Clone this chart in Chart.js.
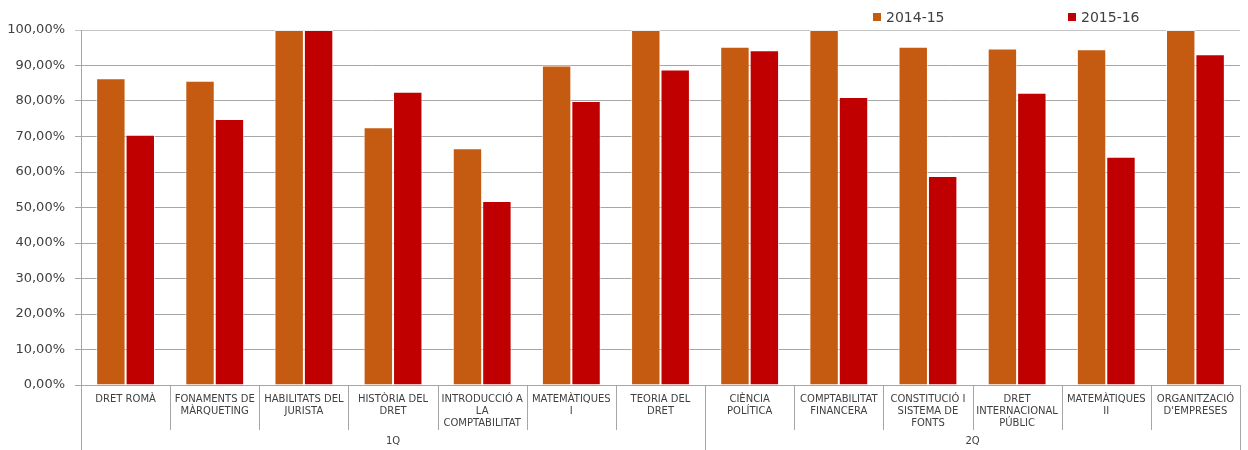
<!DOCTYPE html>
<html>
<head>
<meta charset="utf-8">
<script src="https://cdn.jsdelivr.net/npm/chart.js@4.4.1/dist/chart.umd.min.js"></script>
<style>
  html, body { margin: 0; padding: 0; background: #fff; }
  #wrap { width: 1248px; height: 450px; position: relative; }
</style>
</head>
<body>
<div id="wrap"><canvas id="chart"></canvas></div>
<script>
// Subjects (x categories), wrapped the same way as the original
const subjects = [
    ['DRET ROMÀ'],
    ['FONAMENTS DE', 'MÀRQUETING'],
    ['HABILITATS DEL', 'JURISTA'],
    ['HISTÒRIA DEL', 'DRET'],
    ['INTRODUCCIÓ A', 'LA', 'COMPTABILITAT'],
    ['MATEMÀTIQUES', 'I'],
    ['TEORIA DEL', 'DRET'],
    ['CIÈNCIA', 'POLÍTICA'],
    ['COMPTABILITAT', 'FINANCERA'],
    ['CONSTITUCIÓ I', 'SISTEMA DE', 'FONTS'],
    ['DRET', 'INTERNACIONAL', 'PÚBLIC'],
    ['MATEMÀTIQUES', 'II'],
    ["ORGANITZACIÓ", "D'EMPRESES"]
];

// Quarter groups and how many subjects each one holds
const quarters = ['1Q', '2Q'];
const quarterSizes = [7, 6];

const seriesNames = ['2014-15', '2015-16'];
const values1415 = [86.4, 85.7, 100, 72.6, 66.7, 90.0, 100, 95.3, 100, 95.3, 94.8, 94.6, 100];
const values1516 = [70.5, 74.9, 100, 82.6, 51.8, 80.0, 88.9, 94.3, 81.1, 58.9, 82.3, 64.3, 93.2];

const yTicks = [0, 10, 20, 30, 40, 50, 60, 70, 80, 90, 100];

const colors = ['#C55A11', '#C00000'];
const textColor = '#404040';
const gridColor = '#a6a6a6';

Chart.defaults.font.family = "'DejaVu Sans', Verdana, sans-serif";
Chart.defaults.color = textColor;

// Separators under the axis + quarter labels
const groupAxisPlugin = {
    id: 'groupAxis',
    afterDraw(chart) {
        const ctx = chart.ctx;
        const x = chart.scales.x;
        const top = x.top;
        const n = subjects.length;
        const starts = [0];
        quarterSizes.reduce((acc, s) => { starts.push(acc + s); return acc + s; }, 0);

        const boundary = (i) => {
            if (i === 0) return x.left;
            if (i === n) return x.right;
            return (x.getPixelForValue(i - 1) + x.getPixelForValue(i)) / 2;
        };

        ctx.save();
        ctx.strokeStyle = gridColor;
        ctx.lineWidth = 1;
        for (let i = 0; i <= n; i++) {
            const px = Math.round(boundary(i)) + 0.5;
            const long = starts.includes(i);
            ctx.beginPath();
            ctx.moveTo(px, top);
            ctx.lineTo(px, long ? chart.height : top + 45);
            ctx.stroke();
        }

        ctx.fillStyle = textColor;
        ctx.font = "10px 'DejaVu Sans'";
        ctx.textAlign = 'center';
        ctx.textBaseline = 'middle';
        quarters.forEach((q, k) => {
            const cx = (boundary(starts[k]) + boundary(starts[k + 1])) / 2;
            ctx.fillText(q, cx, top + 56);
        });

        // legend
        ctx.font = "14px 'DejaVu Sans'";
        ctx.textAlign = 'left';
        const legendX = [873, 1068];
        seriesNames.forEach((name, k) => {
            ctx.fillStyle = colors[k];
            ctx.fillRect(legendX[k], 13, 8, 8);
            ctx.fillStyle = textColor;
            ctx.fillText(name, legendX[k] + 13, 18);
        });
        ctx.restore();
    }
};

new Chart(document.getElementById('chart'), {
    type: 'bar',
    data: {
        labels: subjects,
        datasets: [
            {
                label: seriesNames[0],
                data: values1415,
                backgroundColor: colors[0],
                borderColor: 'rgba(255,255,255,0.7)',
                borderWidth: 1,
                categoryPercentage: 0.66,
                barPercentage: 1
            },
            {
                label: seriesNames[1],
                data: values1516,
                backgroundColor: colors[1],
                borderColor: 'rgba(255,255,255,0.7)',
                borderWidth: 1,
                categoryPercentage: 0.66,
                barPercentage: 1
            }
        ]
    },
    options: {
        responsive: true,
        maintainAspectRatio: false,
        animation: false,
        layout: { padding: { left: 0, right: 8, top: 30, bottom: 0 } },
        plugins: {
            legend: { display: false },
            tooltip: { enabled: false }
        },
        scales: {
            x: {
                grid: { display: true, drawOnChartArea: false, drawTicks: false },
                border: { display: true, color: gridColor },
                ticks: {
                    autoSkip: false,
                    maxRotation: 0,
                    padding: 8,
                    color: textColor,
                    font: { size: 10, lineHeight: 1.2 }
                },
                afterFit(scale) { scale.height = 65; }
            },
            y: {
                min: 0,
                max: 100,
                afterBuildTicks(scale) { scale.ticks = yTicks.map(v => ({ value: v })); },
                grid: {
                    color: (c) => c.tick && c.tick.value === 100 ? '#c4c4c4' : gridColor,
                    tickLength: 6
                },
                border: { display: true, color: gridColor },
                ticks: {
                    padding: 10,
                    color: textColor,
                    font: { size: 13 },
                    callback: (v) => v.toFixed(2).replace('.', ',') + '%'
                },
                afterFit(scale) { scale.width = 81; }
            }
        }
    },
    plugins: [groupAxisPlugin]
});
</script>
</body>
</html>
